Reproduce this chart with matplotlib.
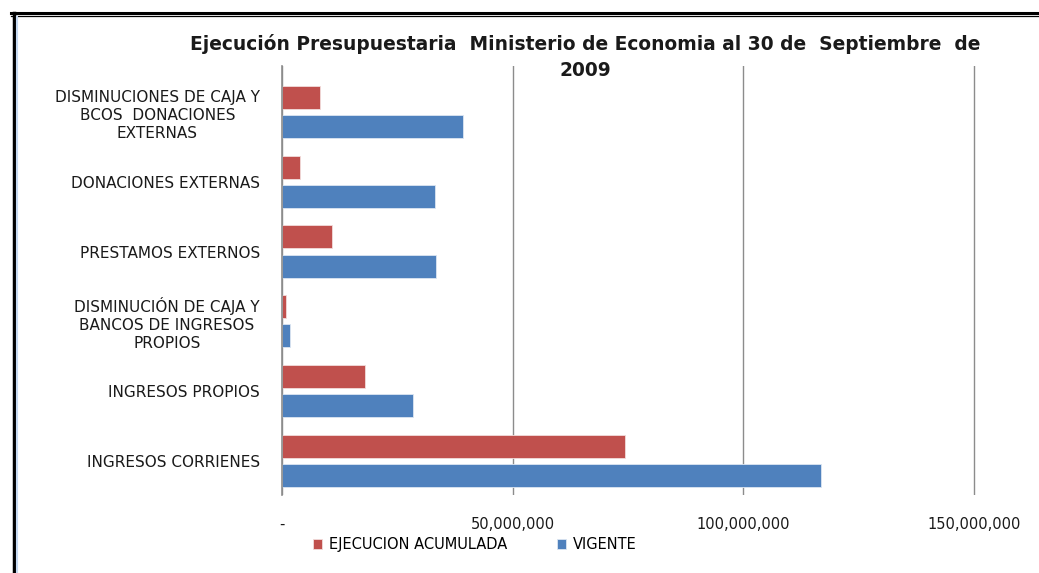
import numpy as np
import matplotlib.pyplot as plt
from matplotlib.lines import Line2D
from matplotlib.ticker import FuncFormatter

plt.rcParams['font.family'] = ['DejaVu Sans']

# Datos (de abajo hacia arriba)
categorias = [
    "INGRESOS CORRIENES",
    "INGRESOS PROPIOS",
    "DISMINUCIÓN DE CAJA Y\nBANCOS DE INGRESOS\nPROPIOS",
    "PRESTAMOS EXTERNOS",
    "DONACIONES EXTERNAS",
    "DISMINUCIONES DE CAJA Y\nBCOS  DONACIONES\nEXTERNAS",
]
ejecucion_acumulada = [74_400_000, 18_000_000, 900_000, 10_800_000, 3_900_000, 8_200_000]
vigente = [116_800_000, 28_400_000, 1_700_000, 33_400_000, 33_200_000, 39_200_000]
xticks = [0, 50_000_000, 100_000_000, 150_000_000]

color_rojo = "#C0504D"
color_azul = "#4F81BD"
gris = "#8C8C8C"

fig = plt.figure(figsize=(10.39, 5.73), dpi=100)
ax = fig.add_axes([0.2714, 0.1361, 0.6705, 0.7487])

y = np.arange(len(categorias))
alto = 0.33
ax.barh(y + 0.21, ejecucion_acumulada, height=alto, color=color_rojo,
        edgecolor="#F2DCDB", linewidth=0.6, label="EJECUCION ACUMULADA")
ax.barh(y - 0.21, vigente, height=alto, color=color_azul,
        edgecolor="#DCE6F2", linewidth=0.6, label="VIGENTE")

ax.set_xlim(0, 151_000_000)
ax.set_ylim(-0.49, 5.66)
ax.set_xticks(xticks)
ax.xaxis.set_major_formatter(FuncFormatter(lambda v, p: "-" if v == 0 else f"{v:,.0f}"))
ax.tick_params(axis="x", length=0, pad=16, labelsize=10.5, labelcolor="#1a1a1a")
ax.set_yticks(y)
ax.set_yticklabels(categorias, fontsize=11, color="#1a1a1a", multialignment="center",
                   linespacing=1.25)
ax.tick_params(axis="y", length=0, pad=16)

ax.grid(axis="x", color=gris, linewidth=1)
ax.set_axisbelow(True)
for s in ["top", "right", "bottom"]:
    ax.spines[s].set_visible(False)
ax.spines["left"].set_color(gris)
ax.spines["left"].set_linewidth(1.2)
ax.spines["left"].set_zorder(3)

fig.text(0.563, 0.9005, "Ejecución Presupuestaria  Ministerio de Economia al 30 de  Septiembre  de\n2009",
         ha="center", va="center", fontsize=13.4, fontweight="bold",
         linespacing=1.45, color="#1a1a1a")

fig.legend(loc="center", bbox_to_anchor=(0.457, 0.049), ncol=2, frameon=False,
           fontsize=10.5, handlelength=0.65, handleheight=0.65, handletextpad=0.45,
           columnspacing=3.4)

# marco de la diapositiva
fig.add_artist(Line2D([0.011, 1.0], [0.978, 0.978], color="black", linewidth=2.2,
                      transform=fig.transFigure))
fig.add_artist(Line2D([0.011, 1.0], [0.972, 0.972], color="black", linewidth=0.9,
                      transform=fig.transFigure))
fig.add_artist(Line2D([0.013, 0.013], [0.0, 0.978], color="black", linewidth=2.5,
                      transform=fig.transFigure))
fig.add_artist(Line2D([0.0165, 0.0165], [0.0, 0.97], color="#C6D9F1", linewidth=1.5,
                      transform=fig.transFigure))

fig.savefig("out.png", dpi=100)
